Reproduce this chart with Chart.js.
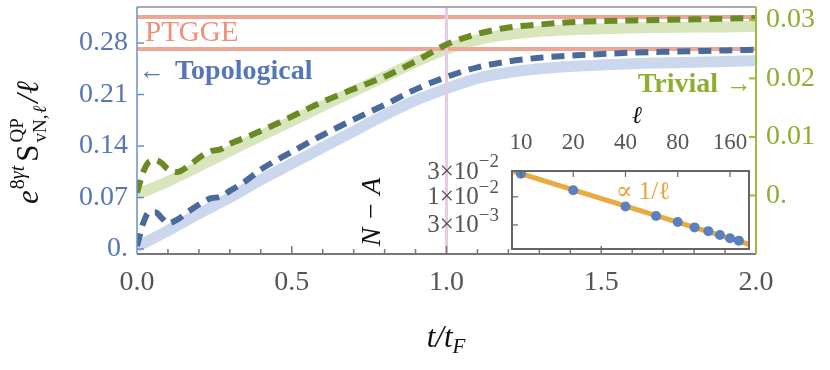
<!DOCTYPE html>
<html lang="en">
<head>
<meta charset="UTF-8">
<title>Quasiparticle entanglement</title>
<script src="https://cdn.jsdelivr.net/npm/chart.js"></script>
<style>
  body { margin: 0; background: #fff; }
  #wrap { position: relative; width: 830px; height: 370px; }
  #mainBox { position: absolute; left: 0; top: 0; width: 830px; height: 370px; }
  #insetBox { position: absolute; left: 400px; top: 100px; width: 360px; height: 155px; }
</style>
</head>
<body>
<div id="wrap">
  <div id="mainBox"><canvas id="mainChart"></canvas></div>
  <div id="insetBox"><canvas id="insetChart"></canvas></div>
</div>

<script>
const serif = "'Liberation Serif', 'DejaVu Serif', serif";

// t / t_F grid for the smooth (thick) curves
const tSmooth = [0, 0.1, 0.2, 0.3, 0.4, 0.5, 0.6, 0.7, 0.8, 0.9, 1.0,
                 1.1, 1.2, 1.3, 1.4, 1.5, 1.6, 1.7, 1.8, 1.9, 2.0];
const topoThick = [0.003, 0.025, 0.048, 0.070, 0.094, 0.116, 0.138, 0.160, 0.182, 0.202, 0.218,
                   0.232, 0.240, 0.245, 0.248, 0.250, 0.252, 0.253, 0.254, 0.255, 0.256];
const trivThick = [0.0002, 0.0024, 0.0050, 0.0076, 0.0102, 0.0127, 0.0153, 0.0178, 0.0203, 0.0228, 0.0250,
                   0.0266, 0.0275, 0.0280, 0.0283, 0.0285, 0.0286, 0.0287, 0.0288, 0.0288, 0.0289];

// dashed curves (finite size)
const tDash = [0, 0.02, 0.04, 0.06, 0.08, 0.10, 0.13, 0.17, 0.21, 0.24, 0.27, 0.30, 0.35,
               0.4, 0.5, 0.6, 0.7, 0.8, 0.9, 1.0, 1.1, 1.2, 1.3, 1.4, 1.5, 1.6, 1.7, 1.8, 1.9, 2.0];
const topoDash = [0.004, 0.035, 0.050, 0.050, 0.042, 0.035, 0.040, 0.052, 0.063, 0.069, 0.071, 0.079, 0.092,
                  0.108, 0.132, 0.155, 0.176, 0.196, 0.217, 0.234, 0.247, 0.255, 0.260, 0.263, 0.265,
                  0.267, 0.268, 0.269, 0.270, 0.271];
const trivDash = [0.0005, 0.0040, 0.0058, 0.0060, 0.0055, 0.0045, 0.0040, 0.0052, 0.0068, 0.0076, 0.0079, 0.0088, 0.0099,
                  0.0110, 0.0135, 0.0160, 0.0182, 0.0203, 0.0229, 0.0258, 0.0276, 0.0287, 0.0292, 0.0296, 0.0298,
                  0.0299, 0.0300, 0.0301, 0.0302, 0.0303];

const ptggeTopo = 0.272;
const ptggeTriv = 0.0305;
const tCut = 1.0;

const xTicks = [0, 0.5, 1, 1.5, 2];
const leftTicks = [0, 0.07, 0.14, 0.21, 0.28];
const rightTicks = [0, 0.01, 0.02, 0.03];

// inset: N - A versus ell
const ells = [10, 20, 40, 60, 80, 100, 120, 140, 160, 180];
const insetVals = [0.0268, 0.0132, 0.0066, 0.0044, 0.0034, 0.0027, 0.0023, 0.00195, 0.0017, 0.00153];
const fitEll = [8.88, 205.8];
const fitVals = [0.0304, 0.00131];
const insetXTicks = [10, 20, 40, 80, 160];
const insetYTicks = [0.03, 0.01, 0.003];
const insetYLabels = [['3', '−2'], ['1', '−2'], ['3', '−3']];

const pts = (xs, ys) => xs.map((x, i) => ({ x: x, y: ys[i] }));

const yMin = -0.0068, yMax = 0.329;

// drop the half-label padding Chart.js reserves, so the plot box sits where we want it
const noPad = s => { s.paddingTop = 0; s.paddingBottom = 0; s.paddingLeft = 0; s.paddingRight = 0; };

const mainDecor = {
    id: 'mainDecor',
    afterDatasetsDraw(chart) {
        const ctx = chart.ctx;
        const a = chart.chartArea;
        const x = chart.scales.x, y = chart.scales.y, y2 = chart.scales.y2;
        ctx.save();
        // frame
        ctx.lineWidth = 2;
        ctx.strokeStyle = '#aaaaaa';
        ctx.beginPath(); ctx.moveTo(a.left, a.top); ctx.lineTo(a.right, a.top); ctx.stroke();
        ctx.strokeStyle = '#777777';
        ctx.beginPath(); ctx.moveTo(a.left, a.bottom); ctx.lineTo(a.right, a.bottom); ctx.stroke();
        ctx.lineWidth = 1.5;
        for (let i = 1; i < 20; i++) {
            const px = x.getPixelForValue(i / 10);
            const len = i % 5 === 0 ? 8 : 5;
            ctx.beginPath(); ctx.moveTo(px, a.bottom); ctx.lineTo(px, a.bottom - len); ctx.stroke();
        }
        ctx.lineWidth = 1.5;
        ctx.strokeStyle = '#6a8fcb';
        ctx.beginPath(); ctx.moveTo(a.left, a.top); ctx.lineTo(a.left, a.bottom); ctx.stroke();
        leftTicks.forEach(v => {
            const py = y.getPixelForValue(v);
            ctx.beginPath(); ctx.moveTo(a.left, py); ctx.lineTo(a.left + 7, py); ctx.stroke();
        });
        ctx.strokeStyle = '#9cba3c';
        ctx.lineWidth = 2;
        ctx.beginPath(); ctx.moveTo(a.right, a.top); ctx.lineTo(a.right, a.bottom); ctx.stroke();
        rightTicks.forEach(v => {
            const py = y2.getPixelForValue(v);
            ctx.beginPath(); ctx.moveTo(a.right, py); ctx.lineTo(a.right - 7, py); ctx.stroke();
        });

        // annotations
        ctx.textBaseline = 'middle';
        ctx.textAlign = 'left';
        ctx.fillStyle = '#f0907a';
        ctx.font = '29px ' + serif;
        ctx.fillText('PTGGE', 145, 33);

        ctx.fillStyle = '#5677b4';
        ctx.font = '26px ' + serif;
        ctx.fillText('←', 139, 72);
        ctx.font = 'bold 28px ' + serif;
        ctx.fillText('Topological', 175, 72);

        ctx.fillStyle = '#8fae2f';
        ctx.textAlign = 'right';
        ctx.fillText('Trivial', 718, 85);
        ctx.font = '26px ' + serif;
        ctx.fillText('→', 752, 85);

        // N - A (inset y label)
        ctx.save();
        ctx.translate(380, 212);
        ctx.rotate(-Math.PI / 2);
        ctx.fillStyle = '#111';
        ctx.textAlign = 'center';
        ctx.textBaseline = 'alphabetic';
        ctx.font = 'italic 28px ' + serif;
        ctx.fillText('N − A', 0, 0);
        ctx.restore();

        // y title
        ctx.save();
        ctx.translate(38, 130);
        ctx.rotate(-Math.PI / 2);
        ctx.fillStyle = '#111';
        ctx.textAlign = 'left';
        ctx.textBaseline = 'alphabetic';
        let u = -74;
        ctx.font = 'italic 31px ' + serif;
        ctx.fillText('e', u, 0); u += ctx.measureText('e').width + 1;
        ctx.font = '20px ' + serif;
        ctx.fillText('8', u, -14); u += ctx.measureText('8').width;
        ctx.font = 'italic 20px ' + serif;
        ctx.fillText('γt', u, -14); u += ctx.measureText('γt').width + 4;
        ctx.font = '31px ' + serif;
        ctx.fillText('S', u, 0); u += ctx.measureText('S').width + 2;
        ctx.font = '19px ' + serif;
        ctx.fillText('QP', u, -15);
        ctx.fillText('vN,', u, 8);
        let w = ctx.measureText('vN,').width;
        ctx.font = 'italic 19px ' + serif;
        ctx.fillText('ℓ', u + w + 1, 8);
        u += w + ctx.measureText('ℓ').width + 4;
        ctx.font = 'italic 31px ' + serif;
        ctx.fillText('/ℓ', u, 0);
        ctx.restore();

        // x title
        ctx.textAlign = 'left';
        ctx.textBaseline = 'alphabetic';
        ctx.fillStyle = '#111';
        ctx.font = 'italic 31px ' + serif;
        const tw = ctx.measureText('t/t').width;
        ctx.font = 'italic 21px ' + serif;
        const fw = ctx.measureText('F').width;
        const x0 = 446 - (tw + fw) / 2;
        ctx.font = 'italic 31px ' + serif;
        ctx.fillText('t/t', x0, 347);
        ctx.font = 'italic 21px ' + serif;
        ctx.fillText('F', x0 + tw, 353);
        ctx.restore();
    }
};

const base = { pointRadius: 0, fill: false, cubicInterpolationMode: 'monotone', borderCapStyle: 'butt' };

new Chart(document.getElementById('mainChart'), {
    type: 'line',
    data: {
        datasets: [
            Object.assign({ data: pts(tDash, topoDash), yAxisID: 'y', borderColor: '#4a6a9c', borderWidth: 6, borderDash: [13, 8] }, base),
            Object.assign({ data: pts(tDash, trivDash), yAxisID: 'y2', borderColor: '#6a8a24', borderWidth: 6, borderDash: [13, 8] }, base),
            Object.assign({ data: [{ x: tCut, y: yMin }, { x: tCut, y: yMax }], yAxisID: 'y', borderColor: '#e6cbe3', borderWidth: 3 }, base),
            Object.assign({ data: [{ x: 0, y: ptggeTopo }, { x: 2, y: ptggeTopo }], yAxisID: 'y', borderColor: '#eca897', borderWidth: 4 }, base),
            Object.assign({ data: [{ x: 0, y: ptggeTriv }, { x: 2, y: ptggeTriv }], yAxisID: 'y2', borderColor: '#eca897', borderWidth: 4 }, base),
            Object.assign({ data: pts(tSmooth, topoThick), yAxisID: 'y', borderColor: '#cad7ec', borderWidth: 11 }, base),
            Object.assign({ data: pts(tSmooth, trivThick), yAxisID: 'y2', borderColor: '#d9e6bd', borderWidth: 11 }, base)
        ]
    },
    options: {
        responsive: true,
        maintainAspectRatio: false,
        animation: false,
        devicePixelRatio: 1,
        layout: { padding: { top: 7, left: 0, right: 0, bottom: 0 } },
        plugins: { legend: { display: false }, tooltip: { enabled: false } },
        scales: {
            x: {
                type: 'linear', min: 0, max: 2,
                grid: { display: false, drawTicks: false }, border: { display: false },
                afterBuildTicks: s => { s.ticks = xTicks.map(v => ({ value: v })); },
                afterFit: s => { s.height = 116; noPad(s); },
                ticks: { color: '#555', font: { family: serif, size: 28 }, padding: 12, maxRotation: 0,
                         callback: v => v.toFixed(1) }
            },
            y: {
                position: 'left', min: yMin, max: yMax,
                grid: { display: false, drawTicks: false }, border: { display: false },
                afterBuildTicks: s => { s.ticks = leftTicks.map(v => ({ value: v })); },
                afterFit: s => { s.width = 137; noPad(s); },
                ticks: { color: '#5677b4', font: { family: serif, size: 28 }, padding: 9,
                         callback: v => v === 0 ? '0.' : v.toFixed(2) }
            },
            y2: {
                position: 'right', min: -0.01, max: 0.0322,
                grid: { display: false, drawTicks: false }, border: { display: false },
                afterBuildTicks: s => { s.ticks = rightTicks.map(v => ({ value: v })); },
                afterFit: s => { s.width = 74; noPad(s); },
                ticks: { color: '#8fae2f', font: { family: serif, size: 28 }, padding: 10,
                         callback: v => v === 0 ? '0.' : v.toFixed(2) }
            }
        }
    },
    plugins: [mainDecor]
});

const insetDecor = {
    id: 'insetDecor',
    afterDatasetsDraw(chart) {
        const ctx = chart.ctx;
        const a = chart.chartArea;
        const x = chart.scales.x, y = chart.scales.y;
        ctx.save();
        ctx.strokeStyle = '#666';
        ctx.lineWidth = 2;
        ctx.strokeRect(a.left, a.top, a.right - a.left, a.bottom - a.top);
        ctx.lineWidth = 1.2;
        insetXTicks.forEach(v => {
            const px = x.getPixelForValue(v);
            ctx.beginPath(); ctx.moveTo(px, a.top); ctx.lineTo(px, a.top + 6); ctx.stroke();
        });
        insetYTicks.forEach((v, i) => {
            const py = y.getPixelForValue(v);
            ctx.beginPath(); ctx.moveTo(a.left, py); ctx.lineTo(a.left + 6, py); ctx.stroke();
            const lab = insetYLabels[i];
            ctx.fillStyle = '#555';
            ctx.textBaseline = 'middle';
            ctx.textAlign = 'right';
            ctx.font = '19px ' + serif;
            const ew = ctx.measureText(lab[1]).width;
            ctx.fillText(lab[1], 99, py - 9);
            ctx.font = '25px ' + serif;
            ctx.fillText(lab[0] + '×10', 99 - ew, py + 1);
        });
        ctx.fillStyle = '#111';
        ctx.textAlign = 'center';
        ctx.textBaseline = 'middle';
        ctx.font = 'italic 24px ' + serif;
        ctx.fillText('ℓ', 237, 17);
        ctx.fillStyle = '#eaa43a';
        ctx.font = '25px ' + serif;
        ctx.fillText('∝ 1/ℓ', 243, 92);
        ctx.restore();
    }
};

new Chart(document.getElementById('insetChart'), {
    type: 'scatter',
    data: {
        datasets: [
            { data: pts(ells, insetVals), backgroundColor: '#5b80c0', borderWidth: 0, pointRadius: 5, showLine: false },
            { data: pts(fitEll, fitVals), borderColor: '#eaaa3f', borderWidth: 5, pointRadius: 0, showLine: true }
        ]
    },
    options: {
        responsive: true,
        maintainAspectRatio: false,
        animation: false,
        devicePixelRatio: 1,
        layout: { padding: { top: 0, left: 0, right: 11, bottom: 6 } },
        plugins: { legend: { display: false }, tooltip: { enabled: false } },
        scales: {
            x: {
                type: 'logarithmic', position: 'top', min: 8.88, max: 205.8,
                grid: { display: false, drawTicks: false }, border: { display: false },
                afterBuildTicks: s => { s.ticks = insetXTicks.map(v => ({ value: v })); },
                afterFit: s => { s.height = 71; noPad(s); },
                ticks: { color: '#555', font: { family: serif, size: 23 }, padding: 14, maxRotation: 0,
                         callback: v => String(v) }
            },
            y: {
                type: 'logarithmic', position: 'left', min: 0.00107, max: 0.0302,
                grid: { display: false, drawTicks: false }, border: { display: false },
                afterBuildTicks: s => { s.ticks = insetYTicks.map(v => ({ value: v })); },
                afterFit: s => { s.width = 112; noPad(s); },
                ticks: { display: false }
            }
        }
    },
    plugins: [insetDecor]
});
</script>
</body>
</html>
